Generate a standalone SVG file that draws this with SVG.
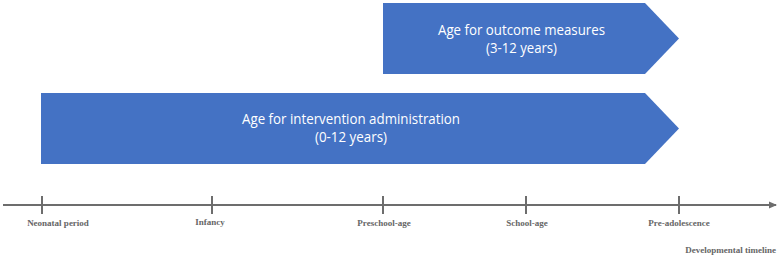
<svg xmlns="http://www.w3.org/2000/svg" width="780" height="257" viewBox="0 0 780 257">
<style>
.band{fill:#4472C4;}
.bt{font-family:"Open Sans","Liberation Sans",sans-serif;font-size:14px;fill:#ffffff;text-anchor:middle;}
.tl{font-family:"Liberation Serif","Times New Roman",serif;font-weight:bold;font-size:9px;fill:#666666;text-anchor:middle;}
.axis{stroke:#6d6d6d;stroke-width:2;fill:none;}
</style>
<defs>
<marker id="ah" markerWidth="8" markerHeight="8" refX="7" refY="4" orient="auto" markerUnits="userSpaceOnUse">
<path d="M0,0.5 L8,4 L0,7.5 Z" fill="#6d6d6d"/>
</marker>
</defs>
<g id="outcome">
<polygon class="band" points="383,3 645,3 679,38.5 645,74 383,74"/>
<text class="bt" x="521.5" y="35" textLength="167" lengthAdjust="spacingAndGlyphs">Age for outcome measures</text>
<text class="bt" x="521.5" y="53" textLength="71" lengthAdjust="spacingAndGlyphs">(3-12 years)</text>
</g>
<g id="intervention">
<polygon class="band" points="41,93 645,93 679,128.5 645,164 41,164"/>
<text class="bt" x="351" y="124" textLength="218" lengthAdjust="spacingAndGlyphs">Age for intervention administration</text>
<text class="bt" x="351" y="142" textLength="72" lengthAdjust="spacingAndGlyphs">(0-12 years)</text>
</g>
<g id="connectors">
<line class="axis" x1="3" y1="205" x2="776" y2="205" marker-end="url(#ah)"/>
<line class="axis" x1="42" y1="196" x2="42" y2="214"/>
<line class="axis" x1="212" y1="196" x2="212" y2="214"/>
<line class="axis" x1="383" y1="196" x2="383" y2="214"/>
<line class="axis" x1="526" y1="196" x2="526" y2="214"/>
<line class="axis" x1="679" y1="196" x2="679" y2="214"/>
</g>
<g id="labels">
<text class="tl" x="58" y="226">Neonatal period</text>
<text class="tl" x="210" y="225">Infancy</text>
<text class="tl" x="384" y="226">Preschool-age</text>
<text class="tl" x="527" y="226">School-age</text>
<text class="tl" x="679" y="226">Pre-adolescence</text>
<text class="tl" x="776" y="253" style="text-anchor:end">Developmental timeline</text>
</g>
</svg>
